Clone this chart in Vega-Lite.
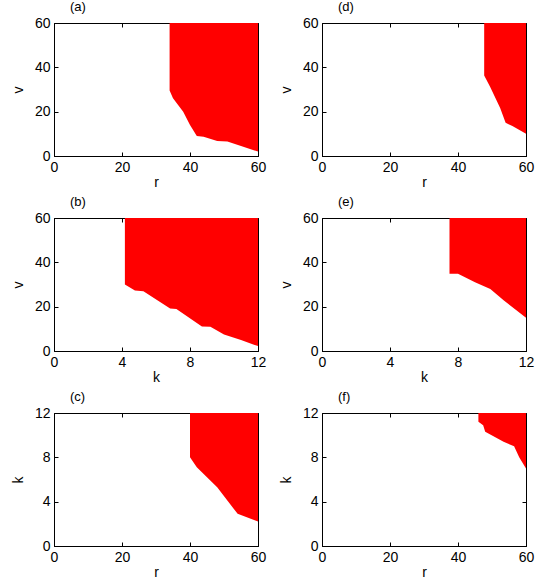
{
  "$schema": "https://vega.github.io/schema/vega-lite/v6.json",
  "padding": {"left": 10, "top": 0, "right": 5, "bottom": 0},
  "background": "white",
  "datasets": {
    "a": [{"x":34,"y":29.5},{"x":35,"y":26},{"x":36.5,"y":23},{"x":38,"y":20},{"x":40,"y":14},{"x":42,"y":9},{"x":44,"y":8.7},{"x":48,"y":6.8},{"x":51,"y":6.5},{"x":55,"y":4.5},{"x":60,"y":2}],
    "d": [{"x":47.7,"y":36.3},{"x":49.4,"y":31.4},{"x":52.4,"y":21.6},{"x":54,"y":15},{"x":56,"y":13.5},{"x":60,"y":10}],
    "b": [{"x":4.17,"y":30},{"x":4.76,"y":27.3},{"x":5.26,"y":27},{"x":6.83,"y":19.2},{"x":7.2,"y":19},{"x":8.7,"y":11.1},{"x":9.2,"y":10.9},{"x":10,"y":7.5},{"x":11,"y":5},{"x":12,"y":2.2}],
    "e": [{"x":7.5,"y":34.8},{"x":8,"y":34.8},{"x":9,"y":31},{"x":9.9,"y":28},{"x":10.7,"y":22.8},{"x":12,"y":15}],
    "c": [{"x":40,"y":8},{"x":42,"y":7.1},{"x":48,"y":5.3},{"x":54,"y":2.9},{"x":60,"y":2.2}],
    "f": [{"x":46,"y":11.2},{"x":47.4,"y":10.9},{"x":48,"y":10.3},{"x":53.4,"y":9.4},{"x":56.5,"y":9},{"x":58,"y":8},{"x":60,"y":7}]
  },
  "config": {
    "view": {"stroke": "black", "strokeWidth": 1},
    "axis": {"domainColor": "black", "tickColor": "black", "tickSize": -4, "labelFont": "Liberation Sans", "labelFontSize": 14, "labelColor": "black", "titleFont": "Liberation Sans", "titleFontSize": 14, "titleFontWeight": "normal", "titleColor": "black", "grid": false, "labelPadding": 8, "labelFlush": false},
    "axisX": {"titlePadding": 1},
    "axisY": {"titlePadding": 9},
    "title": {"font": "Liberation Sans", "fontSize": 13, "fontWeight": "normal", "anchor": "start", "frame": "group", "offset": 2, "dx": 16, "color": "black"}
  },
  "columns": 2,
  "spacing": {"row": 62, "column": 64},
  "bounds": "flush",
  "concat": [
    {"width": 204, "height": 133, "title": "(a)", "data": {"name": "a"},
     "layer": [
      {"mark": {"type": "area", "color": "#ff0000"},
       "encoding": {"x": {"field": "x", "type": "quantitative", "scale": {"domain": [0, 60]}, "axis": {"title": "r", "values": [0, 20, 40, 60]}},
                    "y": {"field": "y", "type": "quantitative", "scale": {"domain": [0, 60]}, "axis": {"title": "v", "values": [0, 20, 40, 60]}},
                    "y2": {"datum": 60}}},
      {"mark": {"type": "area", "opacity": 0},
       "encoding": {"x": {"field": "x", "type": "quantitative", "scale": {"domain": [0, 60]}, "axis": {"orient": "top", "title": null, "labels": false, "domain": false, "values": [0, 20, 40, 60]}},
                    "y": {"field": "y", "type": "quantitative", "scale": {"domain": [0, 60]}, "axis": {"orient": "right", "title": null, "labels": false, "domain": false, "values": [0, 20, 40, 60]}},
                    "y2": {"datum": 60}}}
     ],
     "resolve": {"axis": {"x": "independent", "y": "independent"}}},
    {"width": 204, "height": 133, "title": "(d)", "data": {"name": "d"},
     "layer": [
      {"mark": {"type": "area", "color": "#ff0000"},
       "encoding": {"x": {"field": "x", "type": "quantitative", "scale": {"domain": [0, 60]}, "axis": {"title": "r", "values": [0, 20, 40, 60]}},
                    "y": {"field": "y", "type": "quantitative", "scale": {"domain": [0, 60]}, "axis": {"title": "v", "values": [0, 20, 40, 60]}},
                    "y2": {"datum": 60}}},
      {"mark": {"type": "area", "opacity": 0},
       "encoding": {"x": {"field": "x", "type": "quantitative", "scale": {"domain": [0, 60]}, "axis": {"orient": "top", "title": null, "labels": false, "domain": false, "values": [0, 20, 40, 60]}},
                    "y": {"field": "y", "type": "quantitative", "scale": {"domain": [0, 60]}, "axis": {"orient": "right", "title": null, "labels": false, "domain": false, "values": [0, 20, 40, 60]}},
                    "y2": {"datum": 60}}}
     ],
     "resolve": {"axis": {"x": "independent", "y": "independent"}}},
    {"width": 204, "height": 133, "title": "(b)", "data": {"name": "b"},
     "layer": [
      {"mark": {"type": "area", "color": "#ff0000"},
       "encoding": {"x": {"field": "x", "type": "quantitative", "scale": {"domain": [0, 12]}, "axis": {"title": "k", "values": [0, 4, 8, 12]}},
                    "y": {"field": "y", "type": "quantitative", "scale": {"domain": [0, 60]}, "axis": {"title": "v", "values": [0, 20, 40, 60]}},
                    "y2": {"datum": 60}}},
      {"mark": {"type": "area", "opacity": 0},
       "encoding": {"x": {"field": "x", "type": "quantitative", "scale": {"domain": [0, 12]}, "axis": {"orient": "top", "title": null, "labels": false, "domain": false, "values": [0, 4, 8, 12]}},
                    "y": {"field": "y", "type": "quantitative", "scale": {"domain": [0, 60]}, "axis": {"orient": "right", "title": null, "labels": false, "domain": false, "values": [0, 20, 40, 60]}},
                    "y2": {"datum": 60}}}
     ],
     "resolve": {"axis": {"x": "independent", "y": "independent"}}},
    {"width": 204, "height": 133, "title": "(e)", "data": {"name": "e"},
     "layer": [
      {"mark": {"type": "area", "color": "#ff0000"},
       "encoding": {"x": {"field": "x", "type": "quantitative", "scale": {"domain": [0, 12]}, "axis": {"title": "k", "values": [0, 4, 8, 12]}},
                    "y": {"field": "y", "type": "quantitative", "scale": {"domain": [0, 60]}, "axis": {"title": "v", "values": [0, 20, 40, 60]}},
                    "y2": {"datum": 60}}},
      {"mark": {"type": "area", "opacity": 0},
       "encoding": {"x": {"field": "x", "type": "quantitative", "scale": {"domain": [0, 12]}, "axis": {"orient": "top", "title": null, "labels": false, "domain": false, "values": [0, 4, 8, 12]}},
                    "y": {"field": "y", "type": "quantitative", "scale": {"domain": [0, 60]}, "axis": {"orient": "right", "title": null, "labels": false, "domain": false, "values": [0, 20, 40, 60]}},
                    "y2": {"datum": 60}}}
     ],
     "resolve": {"axis": {"x": "independent", "y": "independent"}}},
    {"width": 204, "height": 133, "title": "(c)", "data": {"name": "c"},
     "layer": [
      {"mark": {"type": "area", "color": "#ff0000"},
       "encoding": {"x": {"field": "x", "type": "quantitative", "scale": {"domain": [0, 60]}, "axis": {"title": "r", "values": [0, 20, 40, 60]}},
                    "y": {"field": "y", "type": "quantitative", "scale": {"domain": [0, 12]}, "axis": {"title": "k", "values": [0, 4, 8, 12]}},
                    "y2": {"datum": 12}}},
      {"mark": {"type": "area", "opacity": 0},
       "encoding": {"x": {"field": "x", "type": "quantitative", "scale": {"domain": [0, 60]}, "axis": {"orient": "top", "title": null, "labels": false, "domain": false, "values": [0, 20, 40, 60]}},
                    "y": {"field": "y", "type": "quantitative", "scale": {"domain": [0, 12]}, "axis": {"orient": "right", "title": null, "labels": false, "domain": false, "values": [0, 4, 8, 12]}},
                    "y2": {"datum": 12}}}
     ],
     "resolve": {"axis": {"x": "independent", "y": "independent"}}},
    {"width": 204, "height": 133, "title": "(f)", "data": {"name": "f"},
     "layer": [
      {"mark": {"type": "area", "color": "#ff0000"},
       "encoding": {"x": {"field": "x", "type": "quantitative", "scale": {"domain": [0, 60]}, "axis": {"title": "r", "values": [0, 20, 40, 60]}},
                    "y": {"field": "y", "type": "quantitative", "scale": {"domain": [0, 12]}, "axis": {"title": "k", "values": [0, 4, 8, 12]}},
                    "y2": {"datum": 12}}},
      {"mark": {"type": "area", "opacity": 0},
       "encoding": {"x": {"field": "x", "type": "quantitative", "scale": {"domain": [0, 60]}, "axis": {"orient": "top", "title": null, "labels": false, "domain": false, "values": [0, 20, 40, 60]}},
                    "y": {"field": "y", "type": "quantitative", "scale": {"domain": [0, 12]}, "axis": {"orient": "right", "title": null, "labels": false, "domain": false, "values": [0, 4, 8, 12]}},
                    "y2": {"datum": 12}}}
     ],
     "resolve": {"axis": {"x": "independent", "y": "independent"}}}
  ]
}
